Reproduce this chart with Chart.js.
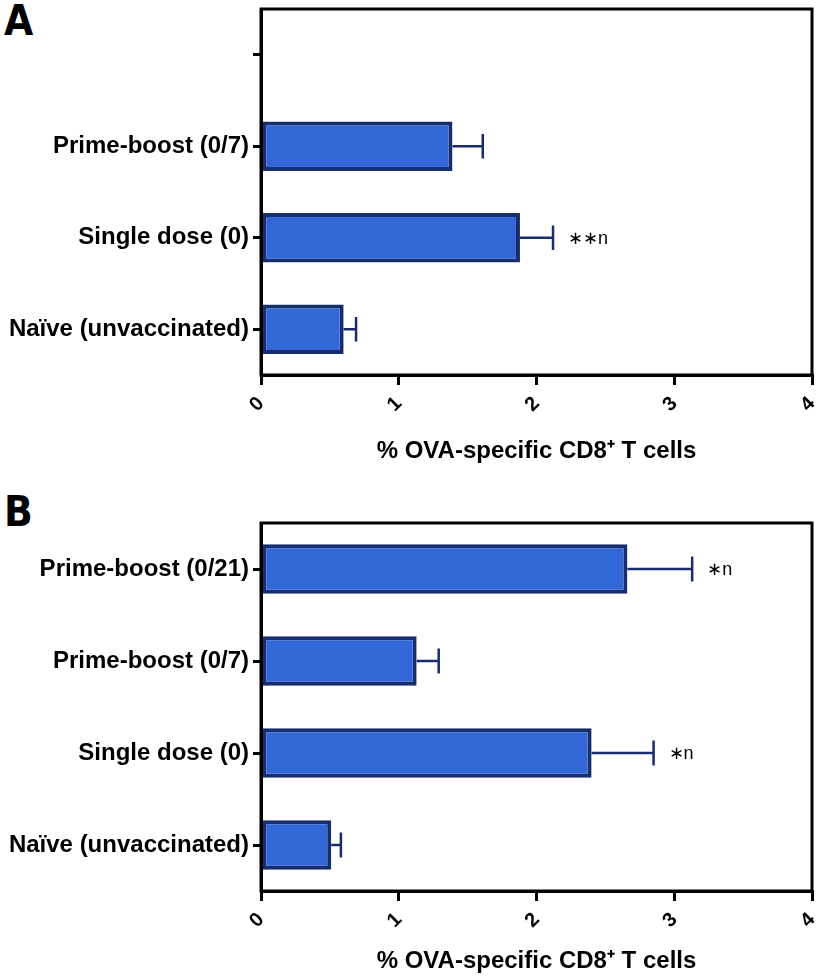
<!DOCTYPE html>
<html lang="en">
<head>
    <meta charset="UTF-8">
    <title>OVA-specific CD8+ T cells</title>
    <style>
        body { margin: 0; background: #fff; width: 819px; height: 977px; position: relative; overflow: hidden; }
        .panel { position: absolute; left: 0; }
        .letter { position: absolute; left: 4px; font: bold 42px "Liberation Sans Narrow", "DejaVu Sans Condensed", "Liberation Sans", sans-serif; color: #000; line-height: 1; }
    </style>
</head>
<body>
    <div class="letter" style="top: 0px;">A</div>
    <div class="letter" style="top: 491px;">B</div>
    <canvas id="chartA" class="panel" style="top: 0px;" width="819" height="480"></canvas>
    <canvas id="chartB" class="panel" style="top: 485px;" width="819" height="492"></canvas>
    <script src="https://cdn.jsdelivr.net/npm/chart.js"></script>
    <script>
        // panel A (first category row is empty in the original)
        let v_labelsA = ["", "Prime-boost (0/7)", "Single dose (0)", "Naïve (unvaccinated)"];
        let v_meanA = [null, 1.39, 1.88, 0.60];
        let v_errA = [null, 0.22, 0.24, 0.09];
        let v_noteA = ["", "", "∗∗n", ""];

        // panel B
        let v_labelsB = ["Prime-boost (0/21)", "Prime-boost (0/7)", "Single dose (0)", "Naïve (unvaccinated)"];
        let v_meanB = [2.66, 1.13, 2.40, 0.51];
        let v_errB = [0.47, 0.16, 0.45, 0.07];
        let v_noteB = ["∗n", "", "∗n", ""];

        let v_xTicks = [0, 1, 2, 3, 4];
        let v_xTitle = "% OVA-specific CD8⁺ T cells";

        const FILL = "#3267d8";
        const EDGE = "#182d6b";
        const FONT = "'Liberation Sans', Arial, sans-serif";

        // error bars + significance notes
        const errorBars = {
            id: "errorBars",
            afterDatasetsDraw(chart, args, opts) {
                const ctx = chart.ctx;
                const xs = chart.scales.x;
                const meta = chart.getDatasetMeta(0);
                const vals = chart.data.datasets[0].data;
                ctx.save();
                ctx.strokeStyle = EDGE;
                ctx.lineWidth = 2.5;
                meta.data.forEach((bar, i) => {
                    if (vals[i] == null) return;
                    const x0 = xs.getPixelForValue(vals[i]);
                    const x1 = xs.getPixelForValue(vals[i] + opts.errors[i]);
                    const y = bar.y;
                    const h = bar.height / 4;
                    ctx.beginPath();
                    ctx.moveTo(x0, y);
                    ctx.lineTo(x1, y);
                    ctx.moveTo(x1, y - h);
                    ctx.lineTo(x1, y + h);
                    ctx.stroke();
                    if (opts.notes[i]) {
                        ctx.fillStyle = "#000";
                        ctx.font = "18px " + FONT;
                        ctx.textBaseline = "middle";
                        ctx.textAlign = "left";
                        ctx.fillText(opts.notes[i], x1 + 15, y + 1);
                    }
                });
                ctx.restore();
            }
        };

        // closed frame around the plot area
        const frame = {
            id: "frame",
            afterDraw(chart) {
                const a = chart.chartArea;
                const ctx = chart.ctx;
                ctx.save();
                ctx.strokeStyle = "#000";
                ctx.lineWidth = 3;
                ctx.strokeRect(a.left, a.top, a.right - a.left, a.bottom - a.top);
                ctx.restore();
            }
        };

        function f_make(p_id, p_labels, p_mean, p_err, p_note, p_top, p_xHeight, p_titlePad) {
            return new Chart(document.getElementById(p_id), {
                type: "bar",
                data: {
                    labels: p_labels,
                    datasets: [{
                        data: p_mean,
                        backgroundColor: FILL,
                        borderColor: EDGE,
                        borderWidth: 4,
                        borderSkipped: false,
                        barPercentage: 0.54,
                        categoryPercentage: 1
                    }]
                },
                options: {
                    indexAxis: "y",
                    responsive: false,
                    animation: false,
                    layout: { padding: { top: p_top, right: 7, left: 0, bottom: 0 } },
                    plugins: {
                        legend: { display: false },
                        tooltip: { enabled: false },
                        errorBars: { errors: p_err, notes: p_note }
                    },
                    scales: {
                        x: {
                            type: "linear",
                            min: v_xTicks[0],
                            max: v_xTicks[v_xTicks.length - 1],
                            afterBuildTicks: (s) => { s.ticks = v_xTicks.map(v => ({ value: v })); },
                            afterFit: (s) => { s.height = p_xHeight; s.paddingLeft = 0; s.paddingRight = 0; },
                            border: { color: "#000", width: 3 },
                            grid: { drawOnChartArea: false, color: "#000", lineWidth: 3, tickLength: 10 },
                            ticks: {
                                color: "#000",
                                minRotation: 45,
                                maxRotation: 45,
                                padding: 7,
                                font: { family: FONT, size: 20, weight: "bold" }
                            },
                            title: {
                                display: true,
                                text: v_xTitle,
                                color: "#000",
                                padding: { top: 0, bottom: p_titlePad },
                                font: { family: FONT, size: 24, weight: "bold" }
                            }
                        },
                        y: {
                            afterFit: (s) => { s.width = 261; s.paddingTop = 0; s.paddingBottom = 0; },
                            border: { color: "#000", width: 3 },
                            grid: { drawOnChartArea: false, offset: false, color: "#000", lineWidth: 3, tickLength: 8 },
                            ticks: {
                                color: "#000",
                                padding: 4,
                                font: { family: FONT, size: 24, weight: "bold" }
                            }
                        }
                    }
                },
                plugins: [errorBars, frame]
            });
        }

        f_make("chartA", v_labelsA, v_meanA, v_errA, v_noteA, 9, 105, 14);
        f_make("chartB", v_labelsB, v_meanB, v_errB, v_noteB, 38, 86, 1);
    </script>
</body>
</html>
